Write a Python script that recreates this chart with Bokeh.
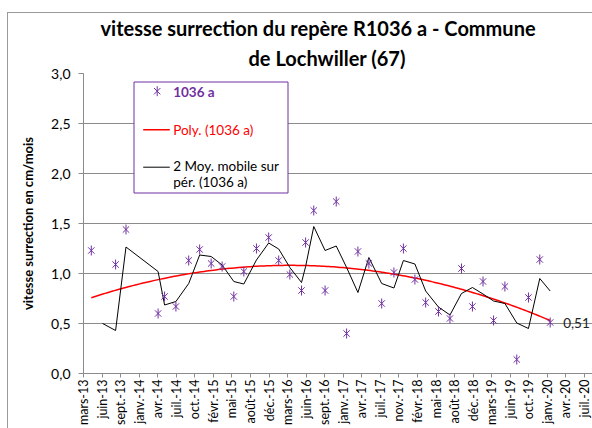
import numpy as np
import pandas as pd
from math import pi
from bokeh.plotting import figure
from bokeh.models import Range1d, FixedTicker, CustomJSTickFormatter, Label, ColumnDataSource, Title
from bokeh.embed import file_html
from bokeh.resources import INLINE
from bokeh.core.properties import value

# ---------------- data ----------------
survey_dates = [
    "2013-04-19", "2013-06-19", "2013-08-28", "2013-10-23", "2014-04-14",
    "2014-05-19", "2014-07-19", "2014-09-26", "2014-11-24", "2015-01-25",
    "2015-03-25", "2015-05-27", "2015-07-20", "2015-09-26", "2015-12-01",
    "2016-01-24", "2016-03-24", "2016-05-26", "2016-06-17", "2016-07-31",
    "2016-09-30", "2016-11-29", "2017-01-24", "2017-03-26", "2017-05-24",
    "2017-08-01", "2017-10-06", "2017-11-26", "2018-01-27", "2018-03-26",
    "2018-06-03", "2018-08-04", "2018-10-05", "2018-12-03", "2019-01-29",
    "2019-03-27", "2019-05-27", "2019-07-30", "2019-10-01", "2019-12-01",
    "2020-01-26",
]
speed_cm_month = [
    1.23, -0.23, 1.09, 1.44, 0.60,
    0.77, 0.67, 1.13, 1.24, 1.10,
    1.07, 0.77, 1.02, 1.25, 1.36,
    1.13, 0.99, 0.83, 1.31, 1.63,
    0.83, 1.72, 0.40, 1.22, 1.10,
    0.70, 1.01, 1.25, 0.94, 0.71,
    0.62, 0.55, 1.05, 0.67, 0.92,
    0.53, 0.87, 0.14, 0.76, 1.14,
    0.51,
]
tick_labels = [
    "mars-13", "juin-13", "sept.-13", "janv.-14", "avr.-14", "juil.-14",
    "oct.-14", "févr.-15", "mai-15", "août-15", "déc.-15", "mars-16",
    "juin-16", "sept.-16", "janv.-17", "avr.-17", "juil.-17", "nov.-17",
    "févr.-18", "mai-18", "août-18", "déc.-18", "mars-19", "juin-19",
    "oct.-19", "janv.-20", "avr.-20", "juil.-20",
]
tick_start = "2013-03-08"
tick_step_days = 100
y_ticks = [0.0, 0.5, 1.0, 1.5, 2.0, 2.5, 3.0]

series_name = "1036 a"
poly_name = "Poly. (1036 a)"
ma_name_lines = ["2 Moy. mobile sur", "pér. (1036 a)"]
title_lines = ["vitesse surrection  du  repère R1036 a - Commune", "de Lochwiller (67)"]
y_title = "vitesse surrection en cm/mois"

# ---------------- derived ----------------
x = pd.to_datetime(survey_dates)
v = np.array(speed_cm_month)
ticks = pd.date_range(tick_start, periods=len(tick_labels), freq=f"{tick_step_days}D")
tick_ms = [int(t.value // 10**6) for t in ticks]

# 2-period moving average
x_ma = x[1:]
ma = (v[:-1] + v[1:]) / 2.0

# polynomial (order 2) trend
days = np.asarray((x - x[0]).days, dtype=float)
coef = np.polyfit(days, v, 2)
grid = np.linspace(0, days[-1], 200)
x_fit = x[0] + pd.to_timedelta(grid, unit="D")
y_fit = np.polyval(coef, grid)

PURPLE = "#7030A0"
GRID = "#8c8c8c"
FONT = "Lato"

# frame spans 83..592 px; ticks span 83..584 px
span = tick_ms[-1] - tick_ms[0]
x_end = tick_ms[0] + span * 509.0 / 501.0

p = figure(width=592, height=428, x_axis_type="datetime", title=None,
           output_backend="svg", toolbar_location=None,
           x_range=Range1d(tick_ms[0], x_end), y_range=Range1d(0, 3),
           min_border_left=83, min_border_right=0, min_border_top=73, min_border_bottom=55)
p.outline_line_color = None
p.background_fill_color = "white"
p.border_fill_color = None
p.styles = {"background-color": "white",
            "box-shadow": "inset 7px 12px 0 0 white, inset 8px 13px 0 0 #9a9a9a"}

# page-pixel helper ranges for legend placement
p.extra_x_ranges = {"px": Range1d(83, 592)}
p.extra_y_ranges = {"px": Range1d(373, 73)}

# title (two lines, line 2 nearest the plot)
p.add_layout(Title(text=title_lines[1], align="left", offset=165, text_font=FONT,
                   text_font_style="bold", text_font_size="20px", text_color="black",
                   standoff=8), "above")
p.add_layout(Title(text=title_lines[0], align="left", offset=17, text_font=FONT,
                   text_font_style="bold", text_font_size="20px", text_color="black",
                   standoff=0), "above")

# axes
p.xaxis.ticker = FixedTicker(ticks=tick_ms)
p.xaxis.major_label_overrides = {ms: lab for ms, lab in zip(tick_ms, tick_labels)}
p.xaxis.major_label_orientation = pi / 2
p.xaxis.major_label_text_font = FONT
p.xaxis.major_label_text_font_size = "12.5px"
p.xaxis.major_label_text_color = "black"
p.xaxis.major_label_standoff = 2
p.xaxis.major_tick_out = 4
p.xaxis.major_tick_in = 0
p.xaxis.minor_tick_line_color = None
p.xaxis.axis_line_color = GRID
p.xaxis.major_tick_line_color = GRID

p.yaxis.ticker = FixedTicker(ticks=y_ticks)
p.yaxis.formatter = CustomJSTickFormatter(code="return tick.toFixed(1).replace('.', ',');")
p.yaxis.major_label_text_font = FONT
p.yaxis.major_label_text_font_size = "14px"
p.yaxis.major_label_text_color = "black"
p.yaxis.major_label_standoff = 8
p.yaxis.major_tick_out = 5
p.yaxis.major_tick_in = 0
p.yaxis.minor_tick_line_color = None
p.yaxis.axis_line_color = GRID
p.yaxis.major_tick_line_color = GRID
p.yaxis.axis_label = y_title
p.yaxis.axis_label_text_font = FONT
p.yaxis.axis_label_text_font_style = "bold"
p.yaxis.axis_label_text_font_size = "13px"
p.yaxis.axis_label_text_color = "black"
p.yaxis.axis_label_standoff = 12

p.xgrid.grid_line_color = None
p.ygrid.ticker = FixedTicker(ticks=y_ticks)
p.ygrid.grid_line_color = GRID
p.ygrid.grid_line_width = 1

# series
p.line(x_fit, y_fit, line_color="#FF0000", line_width=1.5)
p.line(x_ma, ma, line_color="black", line_width=1)
src = ColumnDataSource(dict(x=x, y=v))
p.scatter("x", "y", source=src, marker="x", size=9, line_color=PURPLE, line_width=1)
p.scatter("x", "y", source=src, marker="dash", angle=pi / 2, size=10, line_color=PURPLE, line_width=1)

# data label of last point
p.add_layout(Label(x=int(x[-1].value // 10**6), y=v[-1], x_offset=13,
                   text=f"{v[-1]:.2f}".replace(".", ","), text_baseline="middle",
                   text_font=FONT, text_font_size="13.5px", text_color="#222222"))

# legend (manual)
p.quad(left=[133.5], right=[287.5], top=[81.5], bottom=[192.5],
       x_range_name="px", y_range_name="px",
       fill_color="white", line_color=PURPLE, line_width=1)
p.scatter([156.7], [90.7], x_range_name="px", y_range_name="px",
          marker="x", size=9, line_color=PURPLE, line_width=1)
p.scatter([156.7], [90.7], x_range_name="px", y_range_name="px",
          marker="dash", angle=pi / 2, size=10, line_color=PURPLE, line_width=1)
p.line([142.7, 169.3], [129.3, 129.3], x_range_name="px", y_range_name="px",
       line_color="#FF0000", line_width=1.5)
p.line([142.7, 169.3], [166.7, 166.7], x_range_name="px", y_range_name="px",
       line_color="black", line_width=1)
leg_texts = [(series_name, 91, PURPLE, "bold"), (poly_name, 129, "#FF0000", "normal"),
             (ma_name_lines[0], 165, "black", "normal"), (ma_name_lines[1], 181, "black", "normal")]
for txt, yy, col, sty in leg_texts:
    p.add_layout(Label(x=172.7, y=yy, x_range_name="px", y_range_name="px", text=txt,
                       text_align="left", text_baseline="middle",
                       text_font=FONT, text_font_style=sty, text_font_size="13.5px",
                       text_color=col))

open("out.html", "w").write(file_html(p, INLINE))
